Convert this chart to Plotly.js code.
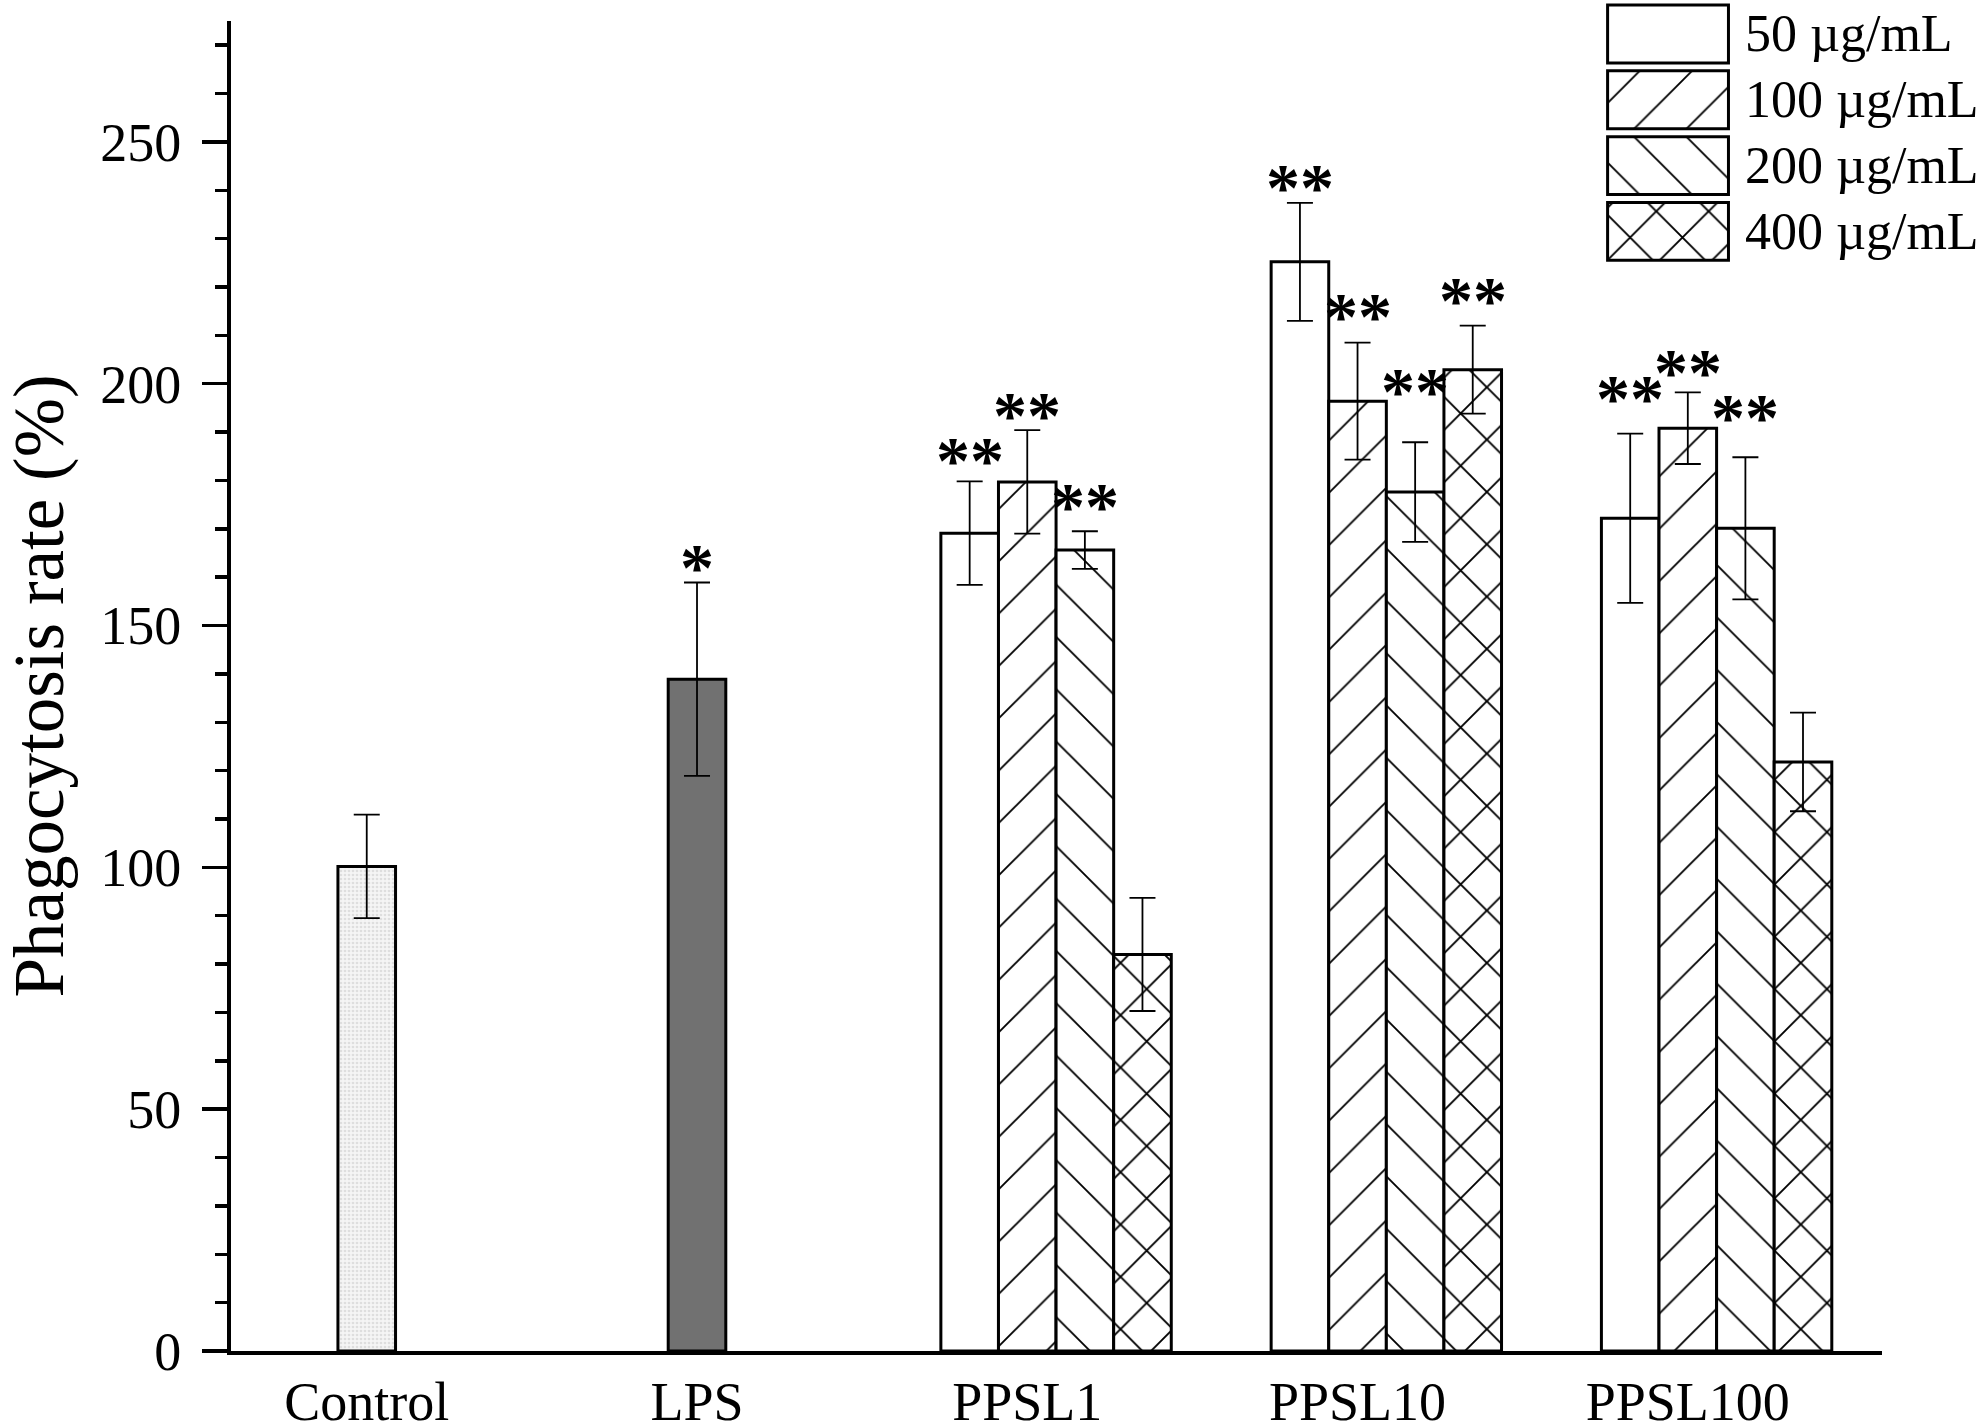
<!DOCTYPE html>
<html>
<head>
<meta charset="utf-8">
<script src="https://cdn.plot.ly/plotly-3.0.1.min.js"></script>
<style>
  body { margin: 0; background: #fff; }
  #graph { width: 1983px; height: 1427px; }
</style>
</head>
<body>
<div id="graph"></div>
<script>
// groups on the x axis
var groups = ['Control', 'LPS', 'PPSL1', 'PPSL10', 'PPSL100'];

// single bars
var baseNames = ['Control', 'LPS'];
var baseVals = [100.2, 138.9];
var baseErr = [10.7, 20.0];
var baseStars = ['', '*'];

// dose series for the PPSL groups
var doseGroups = ['PPSL1', 'PPSL10', 'PPSL100'];
var doseNames = ['50 µg/mL', '100 µg/mL', '200 µg/mL', '400 µg/mL'];
var dose50 = [169.1, 225.2, 172.2];
var dose100 = [179.7, 196.4, 190.8];
var dose200 = [165.6, 177.6, 170.1];
var dose400 = [82.0, 202.9, 121.8];
var err50 = [10.7, 12.2, 17.5];
var err100 = [10.7, 12.1, 7.4];
var err200 = [3.9, 10.3, 14.7];
var err400 = [11.7, 9.1, 10.2];
var stars50 = ['**', '**', '**'];
var stars100 = ['**', '**', '**'];
var stars200 = ['**', '**', '**'];
var stars400 = ['', '**', ''];

// styling
var font = "'Liberation Serif', 'Times New Roman', serif";
var barW = 0.1744;
var doseVals = [dose50, dose100, dose200, dose400];
var doseErrs = [err50, err100, err200, err400];
var doseStars = [stars50, stars100, stars200, stars400];
var shapes = ['', '/', '\\', 'x'];
var solid = [0, 0.05, 0.05, 0.1];
// gap in px between error cap and asterisks (as placed in the original)
var baseGap = [0, 9];
var doseGap = [[15, 10, 30], [9, 21, 14], [19, 45, 34], [0, 20, 0]];
var starFont = {family: font, size: 68, color: '#000', weight: 'bold'};

function pattern(i) {
    if (shapes[i] === '') return {shape: ''};
    return {shape: shapes[i], fgcolor: '#000', bgcolor: '#fff', size: 37, solidity: solid[i]};
}

var data = [];
var annotations = [];

// Control + LPS
var baseColors = ['#f3f3f3', '#717171'];
baseNames.forEach(function (name, i) {
    var tr = {
        type: 'bar', x: [name], y: [baseVals[i]],
        width: barW, offset: -barW / 2,
        marker: {color: baseColors[i], line: {color: '#000', width: 3}},
        error_y: {type: 'data', array: [baseErr[i]], color: '#000', thickness: 1.8, width: 13},
        showlegend: false, hoverinfo: 'y'
    };
    if (i === 0) {
        tr.marker.pattern = {shape: '.', fgcolor: '#dedede', bgcolor: '#f5f5f5', size: 4, solidity: 0.35};
    }
    data.push(tr);
    if (baseStars[i]) {
        annotations.push({
            xref: 'x', yref: 'y', x: groups.indexOf(name), y: baseVals[i] + baseErr[i],
            text: baseStars[i], showarrow: false, yanchor: 'bottom', yshift: baseGap[i] - 34,
            font: starFont
        });
    }
});

// dose bars, second bar centred on the category
doseNames.forEach(function (name, d) {
    var off = (d - 1.5) * barW;
    data.push({
        type: 'bar', name: name, x: doseGroups, y: doseVals[d],
        width: barW, offset: off,
        marker: {color: '#fff', line: {color: '#000', width: 3}, pattern: pattern(d)},
        error_y: {type: 'data', array: doseErrs[d], color: '#000', thickness: 1.8, width: 13},
        showlegend: false, hoverinfo: 'y'
    });
    doseGroups.forEach(function (g, k) {
        if (!doseStars[d][k]) return;
        annotations.push({
            xref: 'x', yref: 'y', x: groups.indexOf(g) + off + barW / 2,
            y: doseVals[d][k] + doseErrs[d][k],
            text: doseStars[d][k], showarrow: false, yanchor: 'bottom', yshift: doseGap[d][k] - 34,
            font: starFont
        });
    });
});

// legend drawn as an inset of hatched boxes
doseNames.forEach(function (name, d) {
    data.push({
        type: 'bar', orientation: 'h', x: [1], y: [d], base: 0, width: 0.88,
        xaxis: 'x2', yaxis: 'y2',
        marker: {color: '#fff', line: {color: '#000', width: 3}, pattern: pattern(d)},
        showlegend: false, hoverinfo: 'skip'
    });
    annotations.push({
        xref: 'paper', yref: 'y2', x: 0.9158, y: d, xanchor: 'left', yanchor: 'middle',
        text: name, showarrow: false,
        font: {family: font, size: 52, color: '#000'}
    });
});

var layout = {
    width: 1983,
    height: 1427,
    paper_bgcolor: '#fff',
    plot_bgcolor: 'rgba(0,0,0,0)',
    font: {family: font, size: 54, color: '#000'},
    margin: {l: 231, r: 101, t: 2, b: 76},
    barmode: 'overlay',
    showlegend: false,
    xaxis: {
        type: 'category',
        categoryorder: 'array',
        categoryarray: groups,
        range: [-0.411, 4.588],
        showline: true, linewidth: 4, linecolor: '#000',
        ticks: '', showgrid: false, zeroline: false,
        tickfont: {family: font, size: 54},
        fixedrange: true
    },
    yaxis: {
        domain: [0, 0.98592],
        range: [0, 275],
        dtick: 50, tick0: 0,
        ticks: 'outside', ticklen: 25, tickwidth: 3.5, tickcolor: '#000',
        minor: {dtick: 10, ticks: 'outside', ticklen: 12, tickwidth: 3.5, tickcolor: '#000'},
        showline: true, linewidth: 4, linecolor: '#000',
        showgrid: false, zeroline: false,
        ticklabelstandoff: 10,
        tickfont: {family: font, size: 54},
        title: {text: 'Phagocytosis rate (%)', font: {family: font, size: 71}, standoff: 30},
        fixedrange: true
    },
    xaxis2: {
        domain: [0.8316, 0.9092], range: [-0.03, 1.03], anchor: 'y2',
        visible: false, fixedrange: true
    },
    yaxis2: {
        domain: [0.8073, 1], range: [3.464, -0.486], anchor: 'x2',
        visible: false, fixedrange: true
    },
    annotations: annotations
};

Plotly.newPlot('graph', data, layout, {displayModeBar: false, staticPlot: true});
</script>
</body>
</html>
